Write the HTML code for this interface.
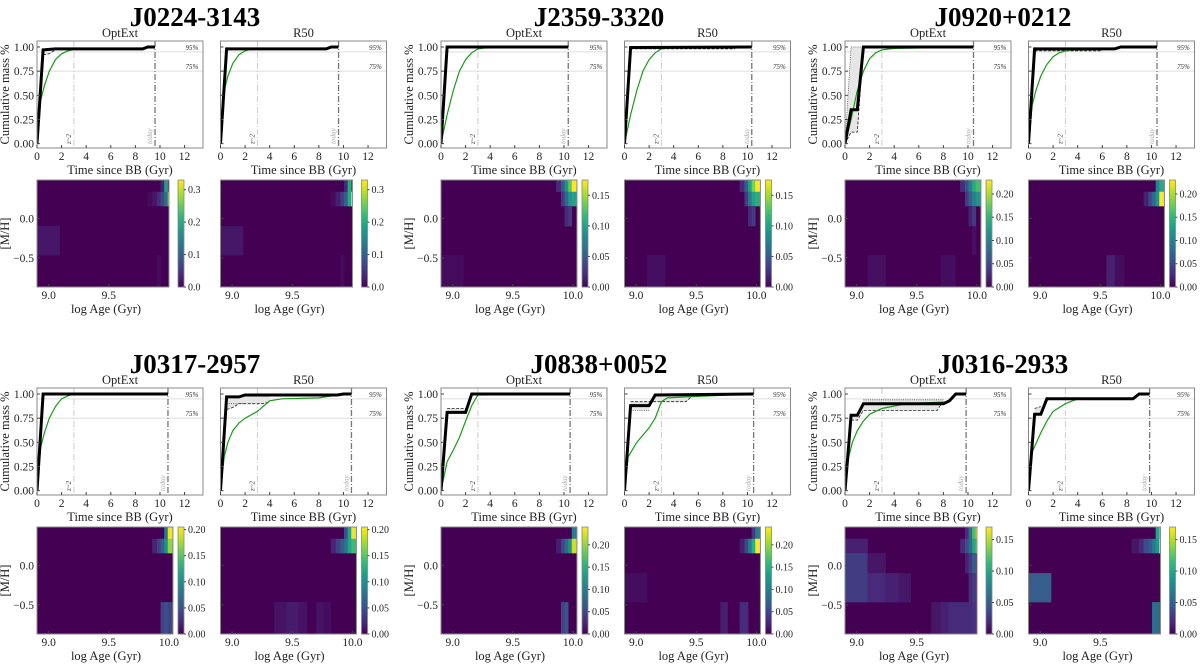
<!DOCTYPE html>
<html><head><meta charset="utf-8"><style>
body{margin:0;background:#fff;}
svg{display:block;font-family:"Liberation Serif",serif;}
</style></head><body>
<svg id="fig" width="1200" height="665" viewBox="0 0 1200 665" xmlns="http://www.w3.org/2000/svg"></svg>
<script>
// ---------- data ----------
const galaxyNames = ["J0224-3143","J2359-3320","J0920+0212","J0317-2957","J0838+0052","J0316-2933"];
const todayAges = [9.6,10.35,10.45,10.65,10.5,9.85];
const cbarMax = [0.33,0.175,0.23,0.205,0.24,0.17];
const cbarTicks = [[0,0.1,0.2,0.3],[0,0.05,0.1,0.15],[0,0.05,0.1,0.15,0.2],[0,0.05,0.1,0.15,0.2],[0,0.05,0.1,0.15,0.2],[0,0.05,0.1,0.15]];
const cbarDec = [1,2,2,2,2,2];
const heatXmax = [10.0,10.033,10.033,10.033,10.033,10.0];
const xTicksCum = [0,2,4,6,8,10,12];
const yTicksCum = [0,0.25,0.5,0.75,1.0];
const ageEdges = [8.90,9.09,9.24,9.35,9.45,9.55,9.62,9.70,9.76,9.82,9.86,9.90,9.93,9.96,9.99,10.05];
const mhEdges = [-0.87,-0.465,-0.097,0.157,0.338,0.487];
// cumulative series per galaxy [OptExt, R50]
const blackT = [
 [[0,0.5,1.5,8.6,9.0,9.6],[0,0.5,8.6,9.0,9.6]],
 [[0,0.5,10.35],[0,0.5,10.35]],
 [[0,0.5,1,1.5,10.45],[0,0.5,7,7.5,10.45]],
 [[0,0.5,10.65],[0,0.5,1.5,2,9.5,10,10.65]],
 [[0,0.5,2,2.5,10.5],[0,0.5,2,2.5,10.5]],
 [[0,0.5,1,1.5,8,8.5,9,9.85],[0,0.5,1,1.5,8.5,9,9.85]]];
const blackY = [
 [[0,0.97,0.98,0.98,1,1],[0,0.98,0.98,1,1]],
 [[0,1,1],[0,0.995,1]],
 [[0,0.35,0.35,1,1],[0,0.98,0.98,1,1]],
 [[0,1,1],[0,0.97,0.97,0.99,0.99,1,1]],
 [[0,0.81,0.81,1,1],[0,0.88,0.88,0.99,1]],
 [[0,0.78,0.78,0.9,0.9,0.93,1,1],[0,0.79,0.79,0.95,0.95,1,1]]];
const greenT = [
 [[0,0.3,0.6,1,1.5,2,2.5,3,8.6,9,9.6],[0,0.3,0.6,1,1.5,2,2.5,8.6,9,9.6]],
 [[0,0.5,1,1.5,2,2.5,3,3.5,10.35],[0,0.5,1,1.5,2,2.5,3,3.5,10.35]],
 [[0,0.5,1,1.5,2,2.5,3,4,10.45],[0,0.3,0.6,1,1.5,2,2.5,3,3.5,7,7.5,10.45]],
 [[0,0.3,0.6,1,1.5,2,2.5,3,10.65],[0,0.3,0.6,1,1.5,2,3,4,5,8,10,10.65]],
 [[0,0.5,1,1.5,2,2.5,3,10.5],[0,0.3,1,2,2.5,3,3.5,5,8.5,9,10.5]],
 [[0,0.3,0.6,1,1.5,2,3,5,8.5,9,9.85],[0,0.3,1,1.5,2,3,4,8.5,9,9.85]]];
const greenY = [
 [[0,0.45,0.6,0.75,0.87,0.93,0.96,0.975,0.98,1,1],[0,0.55,0.7,0.83,0.92,0.96,0.98,0.98,1,1]],
 [[0,0.3,0.55,0.75,0.87,0.94,0.98,0.99,1],[0,0.3,0.55,0.75,0.87,0.94,0.98,0.99,1]],
 [[0,0.25,0.55,0.75,0.88,0.94,0.97,0.985,1],[0,0.4,0.55,0.7,0.82,0.9,0.94,0.96,0.97,0.98,1,1]],
 [[0,0.45,0.6,0.75,0.87,0.95,0.98,1,1],[0,0.35,0.5,0.62,0.7,0.75,0.82,0.93,0.95,0.96,1,1]],
 [[0,0.3,0.42,0.55,0.72,0.88,0.99,1],[0,0.35,0.5,0.65,0.75,0.92,0.96,0.97,0.99,1,1]],
 [[0,0.35,0.5,0.62,0.72,0.79,0.85,0.9,0.92,1,1],[0,0.4,0.6,0.72,0.82,0.9,0.95,0.95,1,1]]];
const loT = [
 [[0.5,1,1.5],[]],[[],[0.5,9]],[[0,0.5,1,1.5],[0.5,6]],
 [[],[0.5,1,1.5,3.5,4]],[[0.5,2],[0.5,2.5,5,5.5]],[[0.5,1,1.5,7.5,8],[0.5,1]]];
const loY = [
 [[0.92,0.93,0.97],[]],[[],[0.98,0.98]],[[0,0.12,0.12,1],[0.96,0.96]],
 [[],[0.84,0.86,0.9,0.9,0.92]],[[0.85,0.85],[0.92,0.92,0.92,0.98]],[[0.73,0.73,0.83,0.83,0.93],[0.85,0.87]]];
const hiT = [
 [[],[]],[[],[]],[[0,0.5,1.5],[]],[[],[0.5,2]],[[],[0.5,2]],[[1.5,8],[]]];
const hiY = [
 [[],[]],[[],[]],[[0,1,1],[]],[[],[0.9,0.9]],[[],[0.83,0.83]],[[0.94,0.94],[]]];
// heat cells: [ageBin, mhRow, value]
const heatCells = [
 [[[0,1,.02],[11,0,.01],[9,3,.01],[10,3,.02],[11,3,.04],[12,3,.07],[13,3,.12],[14,3,.27],[12,4,.03],[13,4,.18]],
  [[0,1,.02],[11,0,.01],[9,3,.01],[10,3,.03],[11,3,.06],[12,3,.1],[13,3,.2],[14,3,.33],[12,4,.04],[13,4,.2]]],
 [[[10,4,.02],[11,4,.05],[12,4,.09],[13,4,.13],[14,4,.175],[11,3,.03],[12,3,.06],[13,3,.09],[14,3,.1],[12,2,.02],[13,2,.03],[0,0,.005]],
  [[10,4,.02],[11,4,.05],[12,4,.1],[13,4,.14],[14,4,.175],[11,3,.03],[12,3,.07],[13,3,.1],[14,3,.11],[12,2,.02],[13,2,.03],[1,0,.007]]],
 [[[10,4,.03],[11,4,.06],[12,4,.1],[13,4,.14],[14,4,.16],[11,3,.04],[12,3,.07],[13,3,.1],[14,3,.12],[12,2,.02],[13,2,.04],[13,1,.01],[1,0,.01],[7,0,.008],[8,0,.008]],
  [[13,4,.1],[14,4,.14],[10,3,.02],[11,3,.05],[12,3,.08],[13,3,.12],[14,3,.23],[5,0,.02],[6,0,.008]]],
 [[[13,4,.08],[14,4,.2],[10,3,.02],[11,3,.04],[12,3,.06],[13,3,.1],[14,3,.17],[12,0,.04],[13,0,.05],[14,0,.04]],
  [[12,4,.05],[13,4,.12],[14,4,.2],[9,3,.02],[10,3,.04],[11,3,.06],[12,3,.08],[13,3,.12],[14,3,.14],[3,0,.01],[4,0,.015],[5,0,.01],[7,0,.01],[8,0,.007]]],
 [[[14,4,.1],[10,3,.02],[11,3,.05],[12,3,.08],[13,3,.12],[14,3,.22],[11,0,.05],[12,0,.06]],
  [[13,4,.04],[14,4,.1],[10,3,.02],[11,3,.05],[12,3,.1],[13,3,.15],[14,3,.24],[0,1,.008],[7,0,.02],[10,0,.03],[11,0,.03]]],
 [[[11,4,.02],[12,4,.06],[13,4,.12],[14,4,.17],[0,3,.015],[10,3,.02],[11,3,.04],[12,3,.06],[13,3,.1],[14,3,.13],[0,2,.03],[1,2,.01],[11,2,.015],[12,2,.03],[13,2,.05],[0,1,.03],[1,1,.02],[2,1,.015],[3,1,.01],[12,1,.02],[13,1,.03],[6,0,.01],[7,0,.015],[8,0,.02],[9,0,.02],[10,0,.02],[11,0,.02],[12,0,.02],[13,0,.025]],
  [[13,4,.1],[14,4,.14],[8,3,.01],[9,3,.02],[10,3,.04],[11,3,.05],[12,3,.07],[13,3,.09],[14,3,.17],[0,1,.05],[12,0,.06],[13,0,.06],[14,0,.05]]]];

// ---------- drawing ----------
const NS="http://www.w3.org/2000/svg";
const svg=document.getElementById('fig');
function mk(tag,attrs,parent,text){const e=document.createElementNS(NS,tag);for(const k in attrs)e.setAttribute(k,attrs[k]);if(text!==undefined)e.textContent=text;(parent||svg).appendChild(e);return e;}
const VIR=[[68,1,84],[72,40,120],[62,74,137],[49,104,142],[38,130,142],[31,158,137],[53,183,121],[110,206,88],[181,222,43],[253,231,37]];
function viridis(t){t=Math.max(0,Math.min(1,t));const s=t*(VIR.length-1);const i=Math.min(VIR.length-2,Math.floor(s));const f=s-i;const c=VIR[i].map((v,k)=>Math.round(v+(VIR[i+1][k]-v)*f));return `rgb(${c[0]},${c[1]},${c[2]})`;}
function fmt(v,d){let s=v.toFixed(d);return v<0?'\u2212'+s.slice(1):s;}
function interp(T,Y,t){if(t<=T[0])return Y[0];for(let i=1;i<T.length;i++){if(t<=T[i]){const f=(t-T[i-1])/((T[i]-T[i-1])||1);return Y[i-1]+(Y[i]-Y[i-1])*f;}}return Y[Y.length-1];}

const gxs=[0,404,808], gys=[0,347];
const PW=166, PH=107, CX0=0, CX1=13.5, CY0=-0.045, CY1=1.062;
let clipId=0;

function cumPanel(g,k,left,top,showY){
  const grp=mk('g',{},svg);
  
  
  const sx=t=>left+(t-CX0)/(CX1-CX0)*PW, sy=v=>top+PH-(v-CY0)/(CY1-CY0)*PH;
  const cid='c'+(clipId++);
  const cp=mk('clipPath',{id:cid},grp);mk('rect',{x:left,y:top,width:PW,height:PH},cp);
  const inner=mk('g',{'clip-path':`url(#${cid})`},grp);
  [0.95,0.75].forEach(v=>{mk('line',{x1:left,x2:left+PW,y1:sy(v),y2:sy(v),stroke:'#ddd','stroke-width':1},inner);
    const t=mk('text',{x:sx(12.6),y:sy(v)-2,'font-size':7,'font-style':'italic',fill:'#333','text-anchor':'middle'},grp,Math.round(v*100)+'%');
    });
  mk('line',{x1:sx(3),x2:sx(3),y1:top,y2:top+PH,stroke:'#ccc','stroke-width':1,'stroke-dasharray':'6,2,1,2'},inner);
  mk('text',{x:0,y:0,'font-size':7,'font-style':'italic',fill:'#444',transform:`translate(${sx(3)-3},${top+PH-4}) rotate(-90)`},grp,'z~2');
  const td=todayAges[g];
  mk('line',{x1:sx(td),x2:sx(td),y1:top,y2:top+PH,stroke:'#777','stroke-width':1.3,'stroke-dasharray':'6,2,1,2'},inner);
  mk('text',{x:0,y:0,'font-size':7,'font-style':'italic',fill:'#aaa',transform:`translate(${sx(td)-3},${top+PH-4}) rotate(-90)`},grp,'today');
  const pts=(T,Y)=>T.map((t,i)=>sx(t).toFixed(1)+','+sy(Y[i]).toFixed(1)).join(' ');
  const bT=blackT[g][k], bY=blackY[g][k];
  const lT=loT[g][k], lY=loY[g][k], hT=hiT[g][k], hY=hiY[g][k];
  [[lT,lY],[hT,hY]].forEach(([T,Y])=>{
    if(!T.length)return;
    const t0=T[0], t1=T[T.length-1];
    const ST=[t0], SY=[interp(bT,bY,t0)];
    bT.forEach((t,i)=>{if(t>t0&&t<t1){ST.push(t);SY.push(bY[i]);}});
    ST.push(t1);SY.push(interp(bT,bY,t1));
    const poly=pts(T,Y)+' '+pts(ST.slice().reverse(),SY.slice().reverse());
    const band=mk('polygon',{points:poly,fill:'#e6e6e6',stroke:'none'},inner);
    
  });
  if(lT.length){
    const dl=mk('polyline',{points:pts(lT,lY),fill:'none',stroke:'#222','stroke-width':0.8,'stroke-dasharray':'3,1.5'},inner);
    
  }
  if(hT.length){
    const hl=mk('polyline',{points:pts(hT,hY),fill:'none',stroke:'#555','stroke-width':0.8,'stroke-dasharray':'1,1.2'},inner);
    
  }
  const gl=mk('polyline',{points:pts(greenT[g][k],greenY[g][k]),fill:'none',stroke:'#1a9a1a','stroke-width':1.2},inner);
  
  const bl=mk('polyline',{points:pts(bT,bY),fill:'none',stroke:'#000','stroke-width':3,'stroke-linejoin':'miter'},inner);
  
  mk('rect',{x:left,y:top,width:PW,height:PH,fill:'none',stroke:'#888','stroke-width':1},grp);
  xTicksCum.forEach(t=>{mk('line',{x1:sx(t),x2:sx(t),y1:top+PH,y2:top+PH-3,stroke:'#444'},grp);
    const tl=mk('text',{x:sx(t),y:top+PH+12,'font-size':11.5,'text-anchor':'middle',fill:'#222'},grp,String(t));
    });
  yTicksCum.forEach(v=>{mk('line',{x1:left,x2:left+3,y1:sy(v),y2:sy(v),stroke:'#444'},grp);
    if(showY){const tl=mk('text',{x:left-3,y:sy(v)+4,'font-size':11.5,'text-anchor':'end',fill:'#222'},grp,v.toFixed(2));
      }});
  const xl=mk('text',{x:left+PW/2,y:top+PH+26,'font-size':12.5,'text-anchor':'middle',fill:'#222'},grp,'Time since BB (Gyr)');
  
  if(showY){const yl=mk('text',{x:0,y:0,'font-size':12.5,'text-anchor':'middle',fill:'#222',transform:`translate(${left-28},${top+PH/2}) rotate(-90)`},grp,'Cumulative mass %');
    }
  const st=mk('text',{x:left+PW/2,y:top-4,'font-size':12.5,'text-anchor':'middle',fill:'#222'},grp,k?'R50':'OptExt');
  
}

function heatPanel(g,k,left,top,showY){
  const grp=mk('g',{},svg);
  
  
  const x0=8.903, xm=heatXmax[g], ppd=120.3, W=(xm-x0)*ppd, H=107;
  const sx=a=>left+(a-x0)*ppd, sy=m=>top+H-(m-mhEdges[0])/(mhEdges[mhEdges.length-1]-mhEdges[0])*H;
  const cid='c'+(clipId++);
  const cp=mk('clipPath',{id:cid},grp);mk('rect',{x:left,y:top,width:W,height:H},cp);
  const inner=mk('g',{'clip-path':`url(#${cid})`},grp);
  const vmax=cbarMax[g];
  mk('rect',{x:left,y:top,width:W,height:H,fill:viridis(0)},inner);
  heatCells[g][k].forEach(c=>{
    const r=mk('rect',{x:sx(ageEdges[c[0]]),y:sy(mhEdges[c[1]+1]),width:sx(ageEdges[c[0]+1])-sx(ageEdges[c[0]])+0.3,height:sy(mhEdges[c[1]])-sy(mhEdges[c[1]+1])+0.3,fill:viridis(c[2]/vmax)},inner);
    });
  mk('rect',{x:left,y:top,width:W,height:H,fill:'none',stroke:'#888','stroke-width':1},grp);
  const xt=[9.0,9.5,10.0].filter(v=>v<=xm+0.001&&!(v===10.0&&xm<10.01));
  xt.forEach(v=>{mk('line',{x1:sx(v),x2:sx(v),y1:top+H,y2:top+H-3,stroke:'#444'},grp);
    const tl=mk('text',{x:sx(v),y:top+H+12,'font-size':11.5,'text-anchor':'middle',fill:'#222'},grp,v.toFixed(1));
    });
  [0.0,-0.5].forEach(v=>{mk('line',{x1:left,x2:left+3,y1:sy(v),y2:sy(v),stroke:'#444'},grp);
    if(showY){const tl=mk('text',{x:left-3,y:sy(v)+4,'font-size':11.5,'text-anchor':'end',fill:'#222'},grp,fmt(v,1));
      }});
  const xl=mk('text',{x:left+69,y:top+H+26,'font-size':12.5,'text-anchor':'middle',fill:'#222'},grp,'log Age (Gyr)');
  
  if(showY){const yl=mk('text',{x:0,y:0,'font-size':12.5,'text-anchor':'middle',fill:'#222',transform:`translate(${left-28},${top+H/2}) rotate(-90)`},grp,'[M/H]');
    }
  const cbx=left+141, cbw=6;
  const cb=mk('g',{},grp);
  
  for(let i=0;i<40;i++){mk('rect',{x:cbx,y:top+H-(i+1)*H/40,width:cbw,height:H/40+0.4,fill:viridis((i+0.5)/40)},cb);}
  mk('rect',{x:cbx,y:top,width:cbw,height:H,fill:'none',stroke:'#888','stroke-width':0.8},cb);
  cbarTicks[g].forEach(v=>{const y=top+H-v/vmax*H;mk('line',{x1:cbx+cbw,x2:cbx+cbw+2,y1:y,y2:y,stroke:'#444'},cb);
    const tl=mk('text',{x:cbx+cbw+4,y:y+3.5,'font-size':10,fill:'#222'},cb,v.toFixed(cbarDec[g]));
    });
}

galaxyNames.forEach((name,g)=>{
  const gx=gxs[g%3], gy=gys[Math.floor(g/3)];
  const t=mk('text',{x:gx+195,y:gy+26,'font-size':27,'font-weight':'bold','text-anchor':'middle',fill:'#000'},svg,name);
  
  [0,1].forEach(k=>{
    const left=gx+37+k*183.5;
    cumPanel(g,k,left,gy+41,k===0);
    heatPanel(g,k,left,gy+180,k===0);
  });
});
</script>
</body></html>
